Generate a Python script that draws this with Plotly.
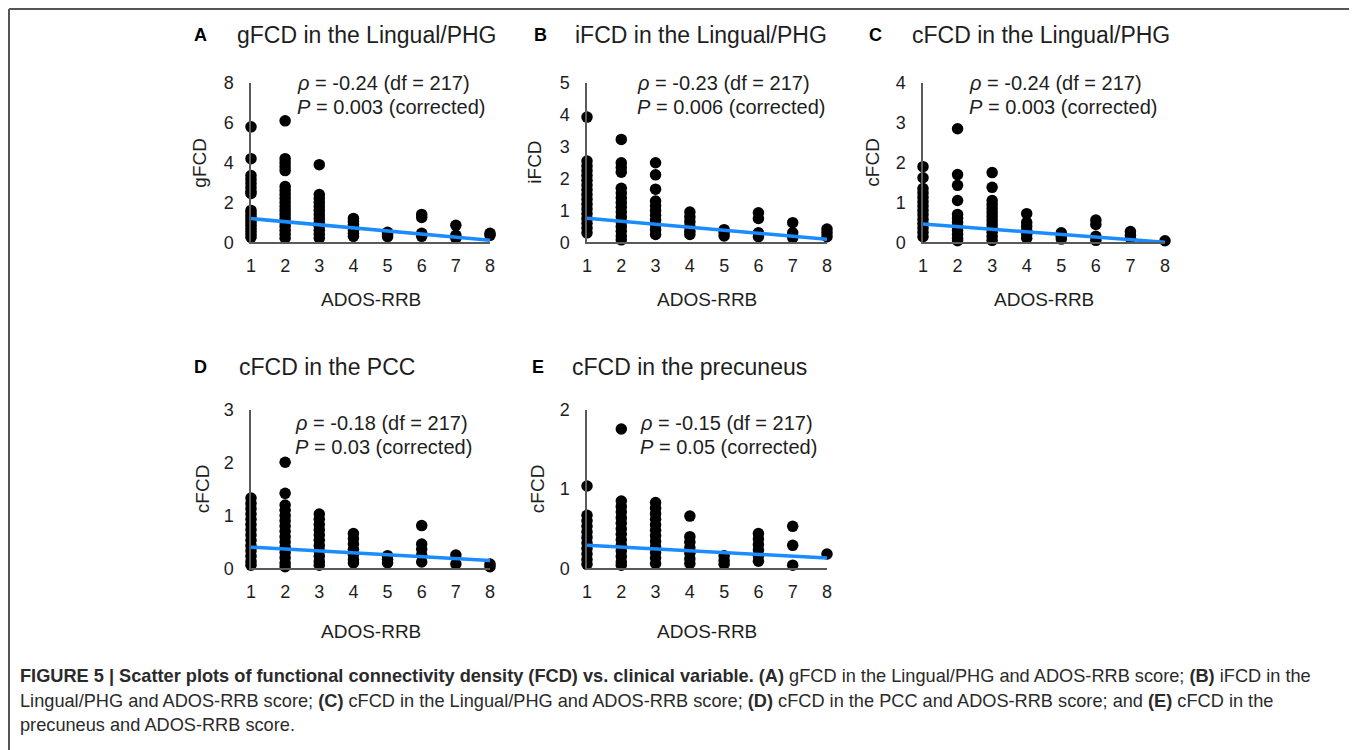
import plotly.graph_objects as go

W, H = 1357, 750
OFF = 8  # page body margin in the browser

# ---------------- data ----------------
ados_scores = [1, 2, 3, 4, 5, 6, 7, 8]

# values for each ADOS-RRB score (index 0 -> score 1 ... index 7 -> score 8)
gfcd_lingual = [
    [5.8, 4.2, 3.35, 3.15, 2.95, 2.75, 2.55, 2.45, 1.6, 1.45, 1.3, 1.15, 1.0, 0.85, 0.7, 0.55, 0.4, 0.25],
    [6.1, 4.2, 4.0, 3.8, 3.6, 2.8, 2.6, 2.4, 2.2, 2.0, 1.8, 1.6, 1.4, 1.2, 1.0, 0.8, 0.6, 0.4, 0.2],
    [3.9, 2.4, 2.2, 2.0, 1.8, 1.6, 1.4, 1.2, 1.0, 0.8, 0.6, 0.4, 0.2],
    [1.2, 1.05, 0.9, 0.75, 0.6, 0.45, 0.3],
    [0.5, 0.4, 0.28],
    [1.4, 1.25, 0.45, 0.3],
    [0.85, 0.35, 0.2],
    [0.45, 0.35],
]
ifcd_lingual = [
    [3.93, 2.55, 2.4, 2.25, 2.1, 1.95, 1.8, 1.65, 1.5, 1.35, 1.2, 1.05, 0.9, 0.75, 0.6, 0.45, 0.3],
    [3.23, 2.5, 2.35, 2.2, 1.7, 1.55, 1.4, 1.25, 1.1, 0.95, 0.8, 0.65, 0.5, 0.35, 0.2, 0.08],
    [2.5, 2.12, 1.67, 1.3, 1.15, 1.0, 0.85, 0.7, 0.55, 0.4, 0.25],
    [0.95, 0.8, 0.65, 0.5, 0.35, 0.25],
    [0.4, 0.3, 0.2],
    [0.93, 0.75, 0.3, 0.18],
    [0.62, 0.3, 0.15],
    [0.42, 0.3, 0.18],
]
cfcd_lingual = [
    [1.9, 1.62, 1.35, 1.24, 1.13, 1.02, 0.91, 0.8, 0.69, 0.58, 0.47, 0.36, 0.25, 0.14],
    [2.85, 1.7, 1.43, 1.05, 0.7, 0.6, 0.5, 0.4, 0.3, 0.2, 0.1, 0.04],
    [1.75, 1.38, 1.05, 0.95, 0.85, 0.75, 0.65, 0.55, 0.45, 0.35, 0.25, 0.15, 0.05],
    [0.72, 0.5, 0.4, 0.3, 0.2, 0.1],
    [0.24, 0.15, 0.08],
    [0.56, 0.45, 0.15, 0.05],
    [0.27, 0.18, 0.1],
    [0.04],
]
cfcd_pcc = [
    [1.33, 1.23, 1.13, 1.03, 0.93, 0.83, 0.73, 0.63, 0.53, 0.43, 0.33, 0.23, 0.13, 0.06],
    [2.01, 1.42, 1.2, 1.1, 1.0, 0.9, 0.8, 0.7, 0.6, 0.5, 0.4, 0.3, 0.2, 0.1, 0.03],
    [1.03, 0.93, 0.83, 0.73, 0.63, 0.53, 0.43, 0.33, 0.23, 0.13, 0.06],
    [0.66, 0.56, 0.46, 0.36, 0.26, 0.16, 0.1],
    [0.24, 0.17, 0.1],
    [0.81, 0.46, 0.36, 0.25, 0.12],
    [0.25, 0.08],
    [0.08, 0.03],
]
cfcd_precuneus = [
    [1.04, 0.67, 0.6, 0.53, 0.46, 0.39, 0.32, 0.25, 0.18, 0.11, 0.05],
    [1.76, 0.85, 0.78, 0.71, 0.64, 0.57, 0.5, 0.43, 0.36, 0.29, 0.22, 0.15, 0.08, 0.04],
    [0.83, 0.76, 0.69, 0.62, 0.55, 0.48, 0.41, 0.34, 0.27, 0.2, 0.13, 0.06],
    [0.66, 0.4, 0.33, 0.26, 0.19, 0.12, 0.06],
    [0.16, 0.1, 0.05],
    [0.44, 0.37, 0.3, 0.23, 0.16, 0.09],
    [0.53, 0.29, 0.04],
    [0.18],
]

# fitted regression line values at ADOS-RRB = 1 and 8
fit_x = [1, 8]
gfcd_lingual_fit = [1.19, 0.10]
ifcd_lingual_fit = [0.76, 0.10]
cfcd_lingual_fit = [0.46, 0.00]
cfcd_pcc_fit = [0.40, 0.15]
cfcd_precuneus_fit = [0.29, 0.13]

panel_letters = ["A", "B", "C", "D", "E"]
panel_titles = ["gFCD in the Lingual/PHG", "iFCD in the Lingual/PHG", "cFCD in the Lingual/PHG",
                "cFCD in the PCC", "cFCD in the precuneus"]
y_titles = ["gFCD", "iFCD", "cFCD", "cFCD", "cFCD"]
y_max = [8, 5, 4, 3, 2]
y_ticks = [[0, 2, 4, 6, 8], [0, 1, 2, 3, 4, 5], [0, 1, 2, 3, 4], [0, 1, 2, 3], [0, 1, 2]]
rho_text = ["-0.24", "-0.23", "-0.24", "-0.18", "-0.15"]
p_text = ["0.003", "0.006", "0.003", "0.03", "0.05"]
x_title = "ADOS-RRB"

caption_lines = [
    "<b>FIGURE 5 | Scatter plots of functional connectivity density (FCD) vs. clinical variable. (A)</b> gFCD in the Lingual/PHG and ADOS-RRB score; <b>(B)</b> iFCD in the",
    "Lingual/PHG and ADOS-RRB score; <b>(C)</b> cFCD in the Lingual/PHG and ADOS-RRB score; <b>(D)</b> cFCD in the PCC and ADOS-RRB score; and <b>(E)</b> cFCD in the",
    "precuneus and ADOS-RRB score.",
]

panel_data = [gfcd_lingual, ifcd_lingual, cfcd_lingual, cfcd_pcc, cfcd_precuneus]
panel_fits = [gfcd_lingual_fit, ifcd_lingual_fit, cfcd_lingual_fit, cfcd_pcc_fit, cfcd_precuneus_fit]

# ---------------- layout geometry (page pixels) ----------------
# (x of score 1, x of score 8, y of value 0, y of top value)
geom = [
    (251, 490, 242.3, 83),
    (587, 827, 242.4, 83),
    (923, 1165, 242.3, 83),
    (251, 490, 568.3, 410),
    (587, 827, 568.3, 410),
]
title_y = [35, 35, 35, 367, 367]
letter_x = [192, 532, 867, 192, 530]
title_x = [235, 573, 910, 237, 570]
stats_x = [295, 635, 967, 293, 638]
stats_y = [83, 83, 83, 423, 423]
ytitle_x = [200, 535, 873, 202, 537]
xtitle_y = [299, 299, 299, 631, 631]


def fx(x):
    return (x - OFF) / W


def fy(y):
    return 1 - (y - OFF) / H


FONT = "Arial, Liberation Sans, Helvetica, sans-serif"
TXT = "#1e1e1e"
AX = "#5a5a5a"
BLUE = "#1a8cff"

fig = go.Figure()
layout = dict(
    width=W, height=H, margin=dict(l=0, r=0, t=0, b=0, pad=0, autoexpand=False),
    paper_bgcolor="white", plot_bgcolor="white", showlegend=False,
    font=dict(family=FONT, color=TXT),
)
annotations = []
shapes = []

for i in range(5):
    n = "" if i == 0 else str(i + 1)
    xs, ys = [], []
    for score, vals in zip(ados_scores, panel_data[i]):
        for v in vals:
            xs.append(score)
            ys.append(v)
    fig.add_trace(go.Scatter(
        x=xs, y=ys, mode="markers", xaxis="x" + n, yaxis="y" + n,
        marker=dict(color="black", size=11.5, line=dict(width=0)),
        cliponaxis=False, hoverinfo="x+y",
    ))
    fig.add_trace(go.Scatter(
        x=fit_x, y=panel_fits[i], mode="lines", xaxis="x" + n, yaxis="y" + n,
        line=dict(color=BLUE, width=3.5), cliponaxis=False,
    ))
    x0p, x1p, y0p, y1p = geom[i]
    layout["xaxis" + n] = dict(
        domain=[fx(x0p), fx(x1p)], range=[1, 8], anchor="y" + n, automargin=False,
        tickvals=ados_scores, ticks="", showgrid=False, zeroline=False,
        showline=True, linecolor=AX, linewidth=1.5,
        tickfont=dict(size=18, color=TXT, family=FONT), ticklabelstandoff=6,
    )
    layout["yaxis" + n] = dict(
        domain=[fy(y0p), fy(y1p)], range=[0, y_max[i]], anchor="x" + n, automargin=False,
        tickvals=y_ticks[i], ticks="", showgrid=False, zeroline=False,
        showline=True, linecolor=AX, linewidth=1.5,
        tickfont=dict(size=18, color=TXT, family=FONT), ticklabelstandoff=12,
    )
    # panel letter and title
    annotations.append(dict(text="<b>" + panel_letters[i] + "</b>", x=fx(letter_x[i]), y=fy(title_y[i]),
                            xref="paper", yref="paper", xanchor="left", yanchor="middle",
                            showarrow=False, font=dict(size=18, color="black")))
    annotations.append(dict(text=panel_titles[i], x=fx(title_x[i]), y=fy(title_y[i]),
                            xref="paper", yref="paper", xanchor="left", yanchor="middle",
                            showarrow=False, font=dict(size=23, color=TXT)))
    # statistics
    annotations.append(dict(text="<i>ρ</i> = " + rho_text[i] + " (df = 217)", x=fx(stats_x[i]), y=fy(stats_y[i]),
                            xref="paper", yref="paper", xanchor="left", yanchor="middle",
                            showarrow=False, font=dict(size=20, color=TXT)))
    annotations.append(dict(text="<i>P</i> = " + p_text[i] + " (corrected)", x=fx(stats_x[i]), y=fy(stats_y[i] + 24),
                            xref="paper", yref="paper", xanchor="left", yanchor="middle",
                            showarrow=False, font=dict(size=20, color=TXT)))
    # axis titles
    annotations.append(dict(text=y_titles[i], x=fx(ytitle_x[i]), y=fy((y0p + y1p) / 2),
                            xref="paper", yref="paper", xanchor="center", yanchor="middle",
                            textangle=-90, showarrow=False, font=dict(size=19, color=TXT)))
    annotations.append(dict(text=x_title, x=fx((x0p + x1p) / 2), y=fy(xtitle_y[i]),
                            xref="paper", yref="paper", xanchor="center", yanchor="middle",
                            showarrow=False, font=dict(size=19, color=TXT)))

caption_y = [676, 701, 725]
for line, cy in zip(caption_lines, caption_y):
    annotations.append(dict(text=line, x=fx(18), y=fy(cy), xref="paper", yref="paper",
                            xanchor="left", yanchor="middle", showarrow=False,
                            font=dict(size=18.2, color="#2a2a2a")))

# frame lines (top, left, right)
frame = "#555555"
shapes.append(dict(type="line", xref="paper", yref="paper", x0=fx(9), x1=fx(1355), y0=fy(9), y1=fy(9),
                   line=dict(color=frame, width=2)))
shapes.append(dict(type="line", xref="paper", yref="paper", x0=fx(9), x1=fx(9), y0=fy(9), y1=fy(758),
                   line=dict(color=frame, width=2)))
shapes.append(dict(type="line", xref="paper", yref="paper", x0=fx(1355), x1=fx(1355), y0=fy(9), y1=fy(758),
                   line=dict(color=frame, width=2)))

layout["annotations"] = annotations
layout["shapes"] = shapes
fig.update_layout(**layout)
fig.write_html("out.html")
